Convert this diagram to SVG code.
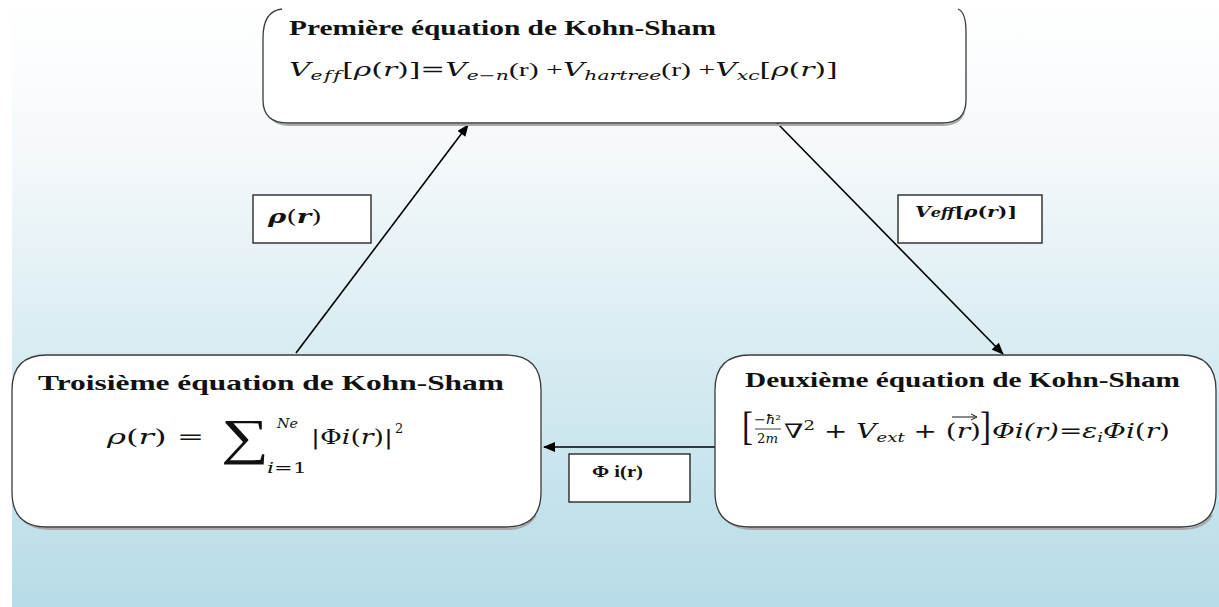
<svg xmlns="http://www.w3.org/2000/svg" width="1219" height="607" viewBox="0 0 1219 607">
<defs>
<linearGradient id="bg" x1="0" y1="0" x2="0" y2="1">
<stop offset="0" stop-color="#ffffff"/>
<stop offset="0.25" stop-color="#f5f9fb"/>
<stop offset="0.6" stop-color="#d6ebf1"/>
<stop offset="1" stop-color="#b7dce7"/>
</linearGradient>
<marker id="ah" viewBox="0 0 12 10" refX="11" refY="5" markerWidth="13" markerHeight="10" markerUnits="userSpaceOnUse" orient="auto">
<path d="M0,0 L12,5 L0,10 Z" fill="#000"/>
</marker>
<style>
.box{fill:#fff;stroke:#3a3a3a;stroke-width:1.3}
.shadow{fill:none;stroke:#a8a8a8;stroke-width:2}
.lbl{fill:#fff;stroke:#1a1a1a;stroke-width:1.3}
.conn{stroke:#000;stroke-width:1.6;fill:none;marker-end:url(#ah)}
.h{font-family:"Liberation Serif","Times New Roman",serif;font-weight:bold;fill:#111}
.m{font-family:"DejaVu Serif","Liberation Serif",serif;fill:#111}
.i{font-style:italic}
.r{font-family:"Liberation Serif",serif;font-style:normal}
.lb{font-family:"DejaVu Serif","Liberation Serif",serif;font-weight:bold;font-style:italic;fill:#111}
</style>
</defs>
<rect x="0" y="0" width="1219" height="607" fill="#ffffff"/>
<rect x="12" y="0" width="1207" height="607" fill="url(#bg)"/>

<g id="connectors">
<line class="conn" x1="296" y1="353" x2="468" y2="125"/>
<line class="conn" x1="777" y1="123" x2="1003" y2="354"/>
<line class="conn" x1="715" y1="447" x2="544" y2="447"/>
</g>

<g id="node-premiere">
<path class="shadow" d="M268,112 Q272,125 290,125 L942,125 Q960,125 964,112"/>
<path class="box" d="M282,9 Q263,11 263,38 L263,100 Q263,123 288,123 L942,123 Q966,123 966,100 L966,32 Q966,12 958,9"/>
<text class="h" x="289" y="35" style="font-size:20px" textLength="427" lengthAdjust="spacingAndGlyphs">Première équation de Kohn-Sham</text>
<g transform="translate(289,76) scale(1.44,1)">
<text class="m" x="0" y="0" style="font-size:19px" textLength="381" lengthAdjust="spacingAndGlyphs"><tspan class="i">V</tspan><tspan class="i" style="font-size:13px;letter-spacing:1px" dy="4">eff</tspan><tspan dy="-4">[</tspan><tspan class="i">ρ</tspan>(<tspan class="i">r</tspan>)]=<tspan class="i">V</tspan><tspan class="i" style="font-size:13px" dy="4">e−n</tspan><tspan class="r" dy="-4">(r) +</tspan><tspan class="i">V</tspan><tspan class="i" style="font-size:13px" dy="4">hartree</tspan><tspan class="r" dy="-4">(r) +</tspan><tspan class="i">V</tspan><tspan class="i" style="font-size:13px" dy="4">xc</tspan><tspan dy="-4">[</tspan><tspan class="i">ρ</tspan>(<tspan class="i">r</tspan>)]</text>
</g>
</g>

<g id="node-troisieme">
<path class="shadow" d="M20,515 Q28,529 50,529 L507,529 Q528,529 536,515"/>
<path class="box" d="M12,390 Q12,355 47,355 L506,355 Q541,355 541,390 L541,492 Q541,527 506,527 L47,527 Q12,527 12,492 Z"/>
<text class="h" x="38" y="390" style="font-size:21px" textLength="466" lengthAdjust="spacingAndGlyphs">Troisième équation de Kohn-Sham</text>
<text class="m" x="107" y="444" style="font-size:21px" textLength="97" lengthAdjust="spacingAndGlyphs"><tspan class="i">ρ</tspan>(<tspan class="i">r</tspan>) =</text>
<text x="221" y="454" style="font-size:50px;font-family:'Liberation Serif',serif;fill:#111" textLength="48" lengthAdjust="spacingAndGlyphs">∑</text>
<text class="m i" x="277" y="428" style="font-size:13px" textLength="21" lengthAdjust="spacingAndGlyphs">Ne</text>
<text class="m" x="267" y="473" style="font-size:14px" textLength="40" lengthAdjust="spacingAndGlyphs"><tspan class="i">i</tspan>=1</text>
<text class="m" x="311" y="444" style="font-size:21px" textLength="82" lengthAdjust="spacingAndGlyphs">|Φ<tspan class="i">i</tspan>(<tspan class="i">r</tspan>)|</text>
<text class="m" x="395" y="433" style="font-size:13px">2</text>
</g>

<g id="node-deuxieme">
<path class="shadow" d="M723,515 Q731,529 753,529 L1182,529 Q1204,529 1212,515"/>
<path class="box" d="M715,390 Q715,355 750,355 L1181,355 Q1216,355 1216,390 L1216,492 Q1216,527 1181,527 L750,527 Q715,527 715,492 Z"/>
<text class="h" x="745" y="387" style="font-size:21px" textLength="435" lengthAdjust="spacingAndGlyphs">Deuxième équation de Kohn-Sham</text>
<text class="r" x="742" y="440" style="font-size:40px;fill:#111" textLength="11" lengthAdjust="spacingAndGlyphs">[</text>
<text class="m" x="754" y="424" style="font-size:13px" textLength="27" lengthAdjust="spacingAndGlyphs">−<tspan class="i">ħ</tspan>²</text>
<line x1="755" y1="429" x2="781" y2="429" stroke="#111" stroke-width="0.8"/>
<text class="m" x="757" y="443" style="font-size:12px" textLength="21" lengthAdjust="spacingAndGlyphs">2<tspan class="i">m</tspan></text>
<text class="m" x="784" y="438" style="font-size:20px" textLength="197" lengthAdjust="spacingAndGlyphs">∇<tspan style="font-size:13px" dy="-8">2</tspan><tspan dy="8"> + </tspan><tspan class="i">V</tspan><tspan class="i" style="font-size:13px" dy="4">ext</tspan><tspan dy="-4"> + (</tspan><tspan class="i">r</tspan>)</text>
<line x1="952" y1="417" x2="975" y2="417" stroke="#111" stroke-width="1"/>
<path d="M971,414 L977,417 L971,420" fill="none" stroke="#111" stroke-width="1"/>
<text class="r" x="980" y="440" style="font-size:40px;fill:#111" textLength="11" lengthAdjust="spacingAndGlyphs">]</text>
<text class="m" x="992" y="438" style="font-size:20px" textLength="178" lengthAdjust="spacingAndGlyphs"><tspan class="i">Φi(r)</tspan>=<tspan class="i">ε</tspan><tspan class="i" style="font-size:13px" dy="4">i</tspan><tspan dy="-4" class="i">Φi</tspan>(<tspan class="i">r</tspan>)</text>
</g>

<g id="label-rho">
<rect class="lbl" x="253" y="195" width="118" height="48"/>
<text class="lb" x="268" y="223" style="font-size:19px" textLength="54" lengthAdjust="spacingAndGlyphs">ρ<tspan style="font-style:normal;font-weight:normal">(</tspan>r<tspan style="font-style:normal;font-weight:normal">)</tspan></text>
</g>

<g id="label-veff">
<rect class="lbl" x="898" y="195" width="144" height="48"/>
<text class="lb" x="915" y="217" style="font-size:15px" textLength="102" lengthAdjust="spacingAndGlyphs">V<tspan style="font-size:12px">eff</tspan><tspan style="font-style:normal">[</tspan>ρ<tspan style="font-style:normal">(</tspan>r<tspan style="font-style:normal">)]</tspan></text>
</g>

<g id="label-phi">
<rect class="lbl" x="569" y="454" width="121" height="48"/>
<text class="h" x="592" y="477" style="font-size:16px" textLength="51" lengthAdjust="spacingAndGlyphs">Φ i(r)</text>
</g>
</svg>
